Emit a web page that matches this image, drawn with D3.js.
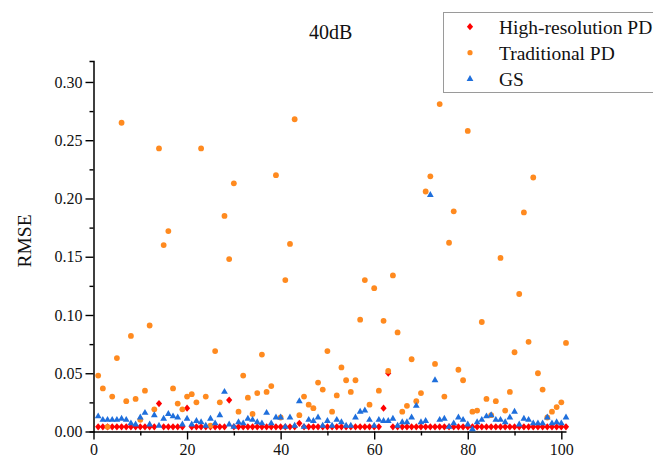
<!DOCTYPE html>
<html>
<head>
<meta charset="utf-8">
<script src="https://cdn.jsdelivr.net/npm/d3@7"></script>
<style>
    body { margin: 0; background: #fff; }
    svg text { font-family: 'Liberation Serif', 'Times New Roman', serif !important; fill: #111; }
</style>
</head>
<body>
<svg id="chart"></svg>
<script>
// RMSE per run (runs 1..101)
const highResPD = [
    0.004, 0.004, 0.004, 0.004, 0.004, 0.004, 0.004, 0.004, 0.004, 0.004,
    0.004, 0.004, 0.004, 0.024, 0.004, 0.004, 0.004, 0.004, 0.004, 0.020,
    0.004, 0.004, 0.004, 0.004, 0.004, 0.004, 0.004, 0.004, 0.027, 0.004,
    0.004, 0.004, 0.004, 0.004, 0.004, 0.004, 0.004, 0.004, 0.004, 0.004,
    0.004, 0.004, 0.004, 0.007, 0.004, 0.004, 0.004, 0.004, 0.004, 0.004,
    0.004, 0.004, 0.004, 0.004, 0.004, 0.004, 0.004, 0.004, 0.004, 0.004,
    0.004, 0.020, 0.050, 0.004, 0.004, 0.004, 0.004, 0.004, 0.004, 0.004,
    0.004, 0.004, 0.004, 0.004, 0.004, 0.004, 0.004, 0.004, 0.004, 0.004,
    0.004, 0.004, 0.004, 0.004, 0.004, 0.004, 0.004, 0.004, 0.004, 0.004,
    0.004, 0.004, 0.004, 0.004, 0.004, 0.004, 0.004, 0.004, 0.004, 0.004,
    0.004
];
const traditionalPD = [
    0.048, 0.037, 0.004, 0.030, 0.063, 0.265, 0.026, 0.082, 0.028, 0.010,
    0.035, 0.091, 0.019, 0.243, 0.160, 0.172, 0.037, 0.024, 0.019, 0.030,
    0.032, 0.025, 0.243, 0.030, 0.005, 0.069, 0.025, 0.185, 0.148, 0.213,
    0.017, 0.048, 0.029, 0.015, 0.033, 0.066, 0.034, 0.039, 0.220, 0.012,
    0.130, 0.161, 0.268, 0.014, 0.030, 0.023, 0.020, 0.042, 0.036, 0.069,
    0.017, 0.031, 0.055, 0.044, 0.034, 0.044, 0.096, 0.130, 0.023, 0.123,
    0.035, 0.095, 0.052, 0.134, 0.085, 0.017, 0.022, 0.062, 0.026, 0.033,
    0.206, 0.219, 0.058, 0.281, 0.030, 0.162, 0.189, 0.053, 0.044, 0.258,
    0.017, 0.018, 0.094, 0.028, 0.014, 0.026, 0.149, 0.018, 0.034, 0.068,
    0.118, 0.188, 0.077, 0.218, 0.050, 0.036, 0.012, 0.017, 0.021, 0.025,
    0.076
];
const gs = [
    0.013, 0.010, 0.010, 0.010, 0.010, 0.011, 0.010, 0.007, 0.006, 0.012,
    0.016, 0.006, 0.014, 0.005, 0.011, 0.015, 0.013, 0.012, 0.006, 0.011,
    0.006, 0.009, 0.008, 0.005, 0.011, 0.007, 0.014, 0.034, 0.006, 0.004,
    0.008, 0.007, 0.011, 0.010, 0.008, 0.007, 0.016, 0.007, 0.012, 0.012,
    0.004, 0.012, 0.005, 0.026, 0.004, 0.010, 0.009, 0.012, 0.005, 0.009,
    0.005, 0.010, 0.008, 0.005, 0.005, 0.012, 0.017, 0.018, 0.010, 0.005,
    0.010, 0.009, 0.009, 0.011, 0.005, 0.008, 0.008, 0.012, 0.022, 0.008,
    0.009, 0.203, 0.044, 0.010, 0.011, 0.004, 0.007, 0.012, 0.010, 0.006,
    0.002, 0.008, 0.010, 0.013, 0.014, 0.010, 0.010, 0.008, 0.012, 0.017,
    0.006, 0.011, 0.010, 0.007, 0.007, 0.007, 0.012, 0.007, 0.008, 0.007,
    0.012
];
const seriesNames = ['High-resolution PD', 'Traditional PD', 'GS'];
const xTicks = [0, 20, 40, 60, 80, 100];
const xMinorTicks = [10, 30, 50, 70, 90];
const yTicks = [0, 0.05, 0.10, 0.15, 0.20, 0.25, 0.30];
const yMinorTicks = [0.025, 0.075, 0.125, 0.175, 0.225, 0.275];

const width = 653, height = 457;
const serif = "'Liberation Serif', 'Times New Roman', serif";
const svg = d3.select('#chart').attr('width', width).attr('height', height);
svg.append('rect').attr('width', width).attr('height', height).attr('fill', '#fff');

const x = d3.scaleLinear().domain([0, 101]).range([93.5, 566]);
const y = d3.scaleLinear().domain([0, 0.318]).range([431.5, 61]);

// minor ticks first, then the labelled axes on top
svg.append('g').attr('transform', 'translate(0,' + y(0) + ')')
    .call(d3.axisBottom(x).tickValues(xMinorTicks).tickSize(4).tickSizeOuter(0).tickFormat(''))
    .call(g => g.select('.domain').remove());
svg.append('g').attr('transform', 'translate(' + x(0) + ',0)')
    .call(d3.axisLeft(y).tickValues(yMinorTicks).tickSize(4).tickSizeOuter(0).tickFormat(''))
    .call(g => g.select('.domain').remove());

const xAxis = svg.append('g').attr('transform', 'translate(0,' + y(0) + ')')
    .call(d3.axisBottom(x).tickValues(xTicks).tickSize(8).tickSizeOuter(0).tickPadding(4));
const yAxis = svg.append('g').attr('transform', 'translate(' + x(0) + ',0)')
    .call(d3.axisLeft(y).tickValues(yTicks).tickSize(8).tickSizeOuter(4).tickPadding(3).tickFormat(d3.format('.2f')));
svg.selectAll('.tick line').attr('stroke', '#000').attr('stroke-width', 1.4);
svg.selectAll('.domain').attr('stroke', '#000').attr('stroke-width', 1.5);
[xAxis, yAxis].forEach(a => {
    a.attr('font-family', serif).attr('font-size', 16);
    a.selectAll('text').attr('font-family', serif).attr('font-size', 16).attr('fill', '#111');
});

svg.append('text').attr('x', x(50.5) + 1).attr('y', 39).attr('text-anchor', 'middle')
    .attr('font-family', serif).attr('font-size', 20).text('40dB');
svg.append('text').attr('transform', 'translate(31,241) rotate(-90)').attr('text-anchor', 'middle')
    .attr('font-family', serif).attr('font-size', 19.5).text('RMSE');

const diamond = 'M0,-3.6L3.1,0L0,3.6L-3.1,0Z';
const triangle = d3.symbol().type(d3.symbolTriangle).size(20)();
const styles = [
    { data: highResPD, color: '#ff0000', path: diamond },
    { data: traditionalPD, color: '#ff8a1f', path: null },
    { data: gs, color: '#1f6fdc', path: triangle }
];

styles.forEach(s => {
    const g = svg.append('g');
    const pts = s.data.map((v, i) => ({ i: i + 1, v: v }));
    if (s.path) {
        g.selectAll('path').data(pts).join('path')
            .attr('d', s.path)
            .attr('transform', d => 'translate(' + x(d.i) + ',' + y(d.v) + ')')
            .attr('fill', s.color);
    } else {
        g.selectAll('circle').data(pts).join('circle')
            .attr('cx', d => x(d.i)).attr('cy', d => y(d.v)).attr('r', 2.9)
            .attr('fill', s.color);
    }
});

// legend
const legend = svg.append('g');
legend.append('rect').attr('x', 443.5).attr('y', 12.5).attr('width', 230).attr('height', 80)
    .attr('fill', '#fff').attr('stroke', '#9a9a9a').attr('stroke-width', 1);
const rowY = [26.7, 52.7, 79];
styles.forEach((s, k) => {
    if (s.path) {
        legend.append('path').attr('d', s.path)
            .attr('transform', 'translate(470,' + rowY[k] + ')').attr('fill', s.color);
    } else {
        legend.append('circle').attr('cx', 470).attr('cy', rowY[k]).attr('r', 2.6).attr('fill', s.color);
    }
    legend.append('text').attr('x', 499).attr('y', rowY[k] + 7)
        .attr('font-family', serif).attr('font-size', 19.5).text(seriesNames[k]);
});
</script>
</body>
</html>
